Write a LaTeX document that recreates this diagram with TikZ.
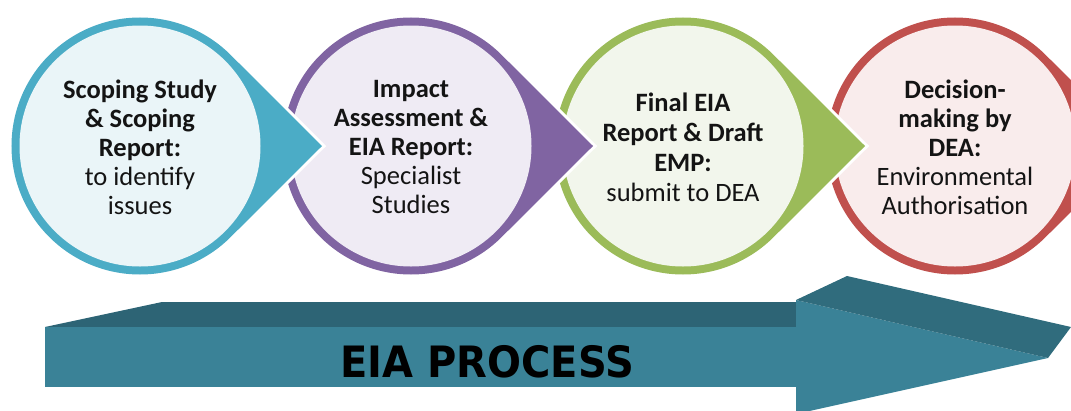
\documentclass[tikz,border=0pt]{standalone}
\usepackage{fontspec}
\setmainfont{Carlito}
\newfontfamily\arrowfont{DejaVu Sans}
\definecolor{tealc}{RGB}{75,172,198}
\definecolor{teall}{RGB}{234,245,248}
\definecolor{purpc}{RGB}{128,100,162}
\definecolor{purpl}{RGB}{239,235,244}
\definecolor{greenc}{RGB}{155,187,89}
\definecolor{greenl}{RGB}{242,246,236}
\definecolor{redc}{RGB}{192,80,77}
\definecolor{redl}{RGB}{249,236,236}
\definecolor{arrfront}{RGB}{58,130,151}
\definecolor{arrtop}{RGB}{45,100,117}
\definecolor{arrhead}{RGB}{48,108,125}
\definecolor{txt}{RGB}{20,20,20}
\tikzset{
  pics/teardrop/.style args={#1/#2}{code={
    \path[draw=white,line width=6] (182,0) -- (90.86,90.86) arc[start angle=45,end angle=315,radius=128.5] -- cycle;
    \path[fill=#1] (182,0) -- (90.86,90.86) arc[start angle=45,end angle=315,radius=128.5] -- cycle;
    \path[fill=#2] (0,0) circle[radius=120.5];
  }},
  lbl/.style={align=center, inner sep=0pt, text=txt, font=\fontsize{26.5}{29}\selectfont},
  lblb/.style={align=center, inner sep=0pt, text=txt, font=\fontsize{26.5}{30}\selectfont},
  arrlbl/.style={inner sep=0pt, anchor=base, text=black, yscale=1.08, font=\arrowfont\bfseries\fontsize{40}{40}\selectfont}
}
\begin{document}
\begin{tikzpicture}[x=1pt,y=-1pt]
\useasboundingbox (0,0) rectangle (1071,410);
\begin{scope}
\clip (0,0) rectangle (1071,410);
\pic at (955,146) {teardrop=redc/redl};
\pic at (683,146) {teardrop=greenc/greenl};
\pic at (411,146) {teardrop=purpc/purpl};
\pic at (140,146) {teardrop=tealc/teall};
% arrow
\fill[arrtop] (45,327) -- (162,302) -- (796,302) -- (796,327) -- cycle;
\fill[arrfront] (45,327) rectangle (796,387);
\fill[arrfront] (796,300) -- (1048,358) -- (796,414) -- cycle;
\fill[arrhead] (796,300) -- (847,276) -- (1071,327) -- (1048,358) -- cycle;
\end{scope}
\node[lbl] (t1) at (140,147) {\textbf{Scoping Study}\\\textbf{\& Scoping}\\\textbf{Report:}\\to identify\\issues};
\node[lbl] (t2) at (411,147) {\textbf{Impact}\\\textbf{Assessment \&}\\\textbf{EIA Report:}\\Specialist\\Studies};
\node[lblb] (t3) at (683,147) {\textbf{Final EIA}\\\textbf{Report \& Draft}\\\textbf{EMP:}\\submit to DEA};
\node[lbl] (t4) at (955,147) {\textbf{Decision-}\\\textbf{making by}\\\textbf{DEA:}\\Environmental\\Authorisation};
\node[arrlbl] (at) at (487,377) {EIA PROCESS};
\end{tikzpicture}
\end{document}
